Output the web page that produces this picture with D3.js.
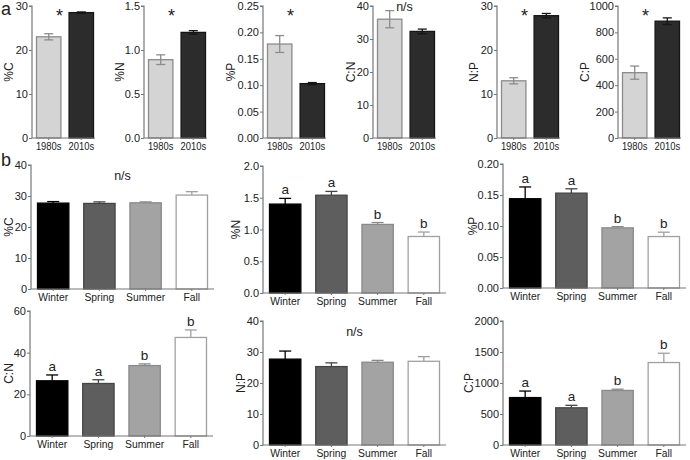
<!DOCTYPE html>
<html><head><meta charset="utf-8">
<script src="https://cdn.jsdelivr.net/npm/d3@7"></script>
<style>body{margin:0;background:#fff}svg{display:block}text{font-family:"Liberation Sans",Arial,sans-serif}</style>
</head><body>
<svg id="c" width="690" height="460"></svg>
<script>
// ---------- DATA ----------
const decades = ["1980s", "2010s"];
const seasons = ["Winter", "Spring", "Summer", "Fall"];

const aLabels = ["%C", "%N", "%P", "C:N", "N:P", "C:P"];
const aMeans = [[23.0, 28.5], [0.89, 1.20], [0.178, 0.103], [36.0, 32.3], [13.0, 27.8], [495, 885]];
const aErrs  = [[0.7, 0.15], [0.055, 0.02], [0.016, 0.002], [2.6, 0.7], [0.7, 0.5], [50, 25]];
const aMax   = [30, 1.5, 0.25, 40, 30, 1000];
const aTicks = [[0,10,20,30],[0,0.5,1.0,1.5],[0,0.05,0.10,0.15,0.20,0.25],[0,10,20,30,40],[0,10,20,30],[0,200,400,600,800,1000]];
const aTickFmt = ["d", ".1f", ".2f", "d", "d", "d"];
const aNote = ["*", "*", "*", "n/s", "*", "*"];

const bLabels = ["%C", "%N", "%P", "C:N", "N:P", "C:P"];
const bMeans = [[27.7, 27.6, 27.8, 30.3], [1.40, 1.54, 1.08, 0.89], [0.144, 0.153, 0.097, 0.083],
                [26.5, 25.2, 33.8, 47.3], [27.7, 25.3, 26.7, 27.0], [765, 600, 880, 1330]];
const bErrs  = [[0.5, 0.5, 0.3, 1.1], [0.09, 0.06, 0.03, 0.07], [0.019, 0.007, 0.002, 0.007],
                [2.8, 1.8, 0.8, 3.6], [2.6, 1.2, 0.6, 1.5], [105, 40, 20, 150]];
const bMax   = [40, 2.0, 0.20, 60, 40, 2000];
const bTicks = [[0,10,20,30,40],[0,0.5,1.0,1.5,2.0],[0,0.05,0.10,0.15,0.20],[0,20,40,60],[0,10,20,30,40],[0,500,1000,1500,2000]];
const bTickFmt = ["d", ".1f", ".2f", "d", "d", "d"];
const bLetters = [null, ["a","a","b","b"], ["a","a","b","b"], ["a","a","b","b"], null, ["a","a","b","b"]];
const bNote = ["n/s", null, null, null, "n/s", null];

// ---------- STYLE / LAYOUT ----------
const FONT = '"Liberation Sans",Arial,sans-serif';
const decFill = ["#d4d4d4", "#2c2c2c"], decStroke = ["#8c8c8c", "#151515"];
const seaFill = ["#000000", "#5e5e5e", "#a3a3a3", "#ffffff"], seaStroke = ["#000000", "#454545", "#8a8a8a", "#a0a0a0"];
const axisCol = "#777", textCol = "#222";

const aLayout = [ // axisX, yTop, yBottom, labelX
  {ax: 32, t: 6, b: 138, lx: 13},
  {ax: 144, t: 6, b: 138, lx: 124},
  {ax: 263, t: 6, b: 138, lx: 235},
  {ax: 373, t: 6, b: 138, lx: 355},
  {ax: 497, t: 6, b: 138, lx: 478},
  {ax: 618, t: 6, b: 138, lx: 589}
];
const bLayout = [
  {ax: 31, t: 165, b: 289, lx: 13},
  {ax: 263, t: 166, b: 293, lx: 240},
  {ax: 503, t: 164, b: 288, lx: 477},
  {ax: 30, t: 311, b: 436, lx: 13},
  {ax: 263, t: 321, b: 445, lx: 245},
  {ax: 503, t: 321, b: 445, lx: 473}
];

const svg = d3.select("#c");

function panel(L, cats, means, errs, ymax, ticks, fmt, label, fills, strokes, opts) {
  const g = svg.append("g");
  const y = d3.scaleLinear().domain([0, ymax]).range([L.b, L.t]);
  const x = d3.scaleBand().domain(cats).range([L.ax + opts.x0, L.ax + opts.x1])
    .paddingInner(opts.pad).paddingOuter(0);
  const bw = x.bandwidth();

  // bars
  g.selectAll("rect.bar").data(cats).join("rect")
    .attr("x", d => x(d) + 0.5).attr("y", (d, i) => y(means[i]))
    .attr("width", bw - 1).attr("height", (d, i) => L.b - y(means[i]))
    .attr("fill", (d, i) => fills[i]).attr("stroke", (d, i) => strokes[i]).attr("stroke-width", 1.3);

  // error bars
  cats.forEach((c, i) => {
    const cx = x(c) + bw / 2;
    const top = y(means[i] + errs[i]);
    const bot = opts.twoSided ? y(means[i] - errs[i]) : y(means[i]);
    const col = strokes[i];
    g.append("line").attr("x1", cx).attr("x2", cx).attr("y1", top).attr("y2", bot)
      .attr("stroke", col).attr("stroke-width", 1.3);
    g.append("line").attr("x1", cx - opts.cap / 2).attr("x2", cx + opts.cap / 2).attr("y1", top).attr("y2", top)
      .attr("stroke", col).attr("stroke-width", 1.3);
    if (opts.twoSided)
      g.append("line").attr("x1", cx - opts.cap / 2).attr("x2", cx + opts.cap / 2).attr("y1", bot).attr("y2", bot)
        .attr("stroke", col).attr("stroke-width", 1.3);
    if (opts.letters) {
      g.append("text").attr("x", cx).attr("y", top - 4).attr("text-anchor", "middle")
        .attr("font-size", 13.5).attr("fill", textCol).text(opts.letters[i]);
    }
  });

  // y axis
  const yAxis = d3.axisLeft(y).tickValues(ticks).tickSize(3).tickPadding(1)
    .tickFormat(v => d3.format(fmt)(v));
  const ya = g.append("g").attr("transform", `translate(${L.ax},0)`).call(yAxis);
  ya.select(".domain").attr("d", `M-3,${L.t}H0V${L.b}`);
  ya.selectAll("text").attr("font-size", 11);
  // x axis
  const xa = g.append("g").attr("transform", `translate(0,${L.b})`)
    .call(d3.axisBottom(x).tickSize(2).tickPadding(2));
  xa.select(".domain").attr("d", `M${L.ax},0H${L.ax + opts.xend}`);
  xa.selectAll("text").attr("font-size", 11.5).attr("transform", `scale(${opts.xsx},1)`);
  [ya, xa].forEach(a => {
    a.selectAll(".domain").attr("stroke", axisCol).attr("stroke-width", 1.2);
    a.selectAll(".tick line").attr("stroke", axisCol);
    a.selectAll("text").attr("fill", textCol).attr("font-family", FONT);
  });

  // y label
  g.append("text").attr("transform", `translate(${L.lx},${(L.t + L.b) / 2}) rotate(-90)`)
    .attr("text-anchor", "middle").attr("font-size", 12).attr("fill", textCol).text(label);

  // note
  if (opts.note) {
    const nx = L.ax + opts.xend / 2 + (opts.note === "*" ? -4 : 0);
    if (opts.note === "*")
      g.append("text").attr("x", nx).attr("y", L.t + 16).attr("text-anchor", "middle")
        .attr("font-size", 18).attr("fill", textCol).text("*");
    else
      g.append("text").attr("x", nx).attr("y", L.t + opts.noteDy).attr("text-anchor", "middle")
        .attr("font-size", 12.5).attr("fill", textCol).text(opts.note);
  }
}

aLabels.forEach((lab, k) => {
  panel(aLayout[k], decades, aMeans[k], aErrs[k], aMax[k], aTicks[k], aTickFmt[k], lab,
    decFill, decStroke,
    {x0: 4, x1: 62, pad: 0.22, cap: 9, twoSided: true, xend: 63, note: aNote[k],
     noteDy: 5, xsx: 0.82});
});
bLabels.forEach((lab, k) => {
  panel(bLayout[k], seasons, bMeans[k], bErrs[k], bMax[k], bTicks[k], bTickFmt[k], lab,
    seaFill, seaStroke,
    {x0: 6, x1: 177, pad: 0.3, cap: 12, twoSided: false, xend: 183, letters: bLetters[k],
     note: bNote[k], noteDy: 15, xsx: 0.9});
});

// panel letters
svg.append("text").attr("x", 1).attr("y", 15).attr("font-size", 18).attr("fill", textCol).text("a");
svg.append("text").attr("x", 1).attr("y", 166).attr("font-size", 18).attr("fill", textCol).text("b");
</script>
</body></html>
